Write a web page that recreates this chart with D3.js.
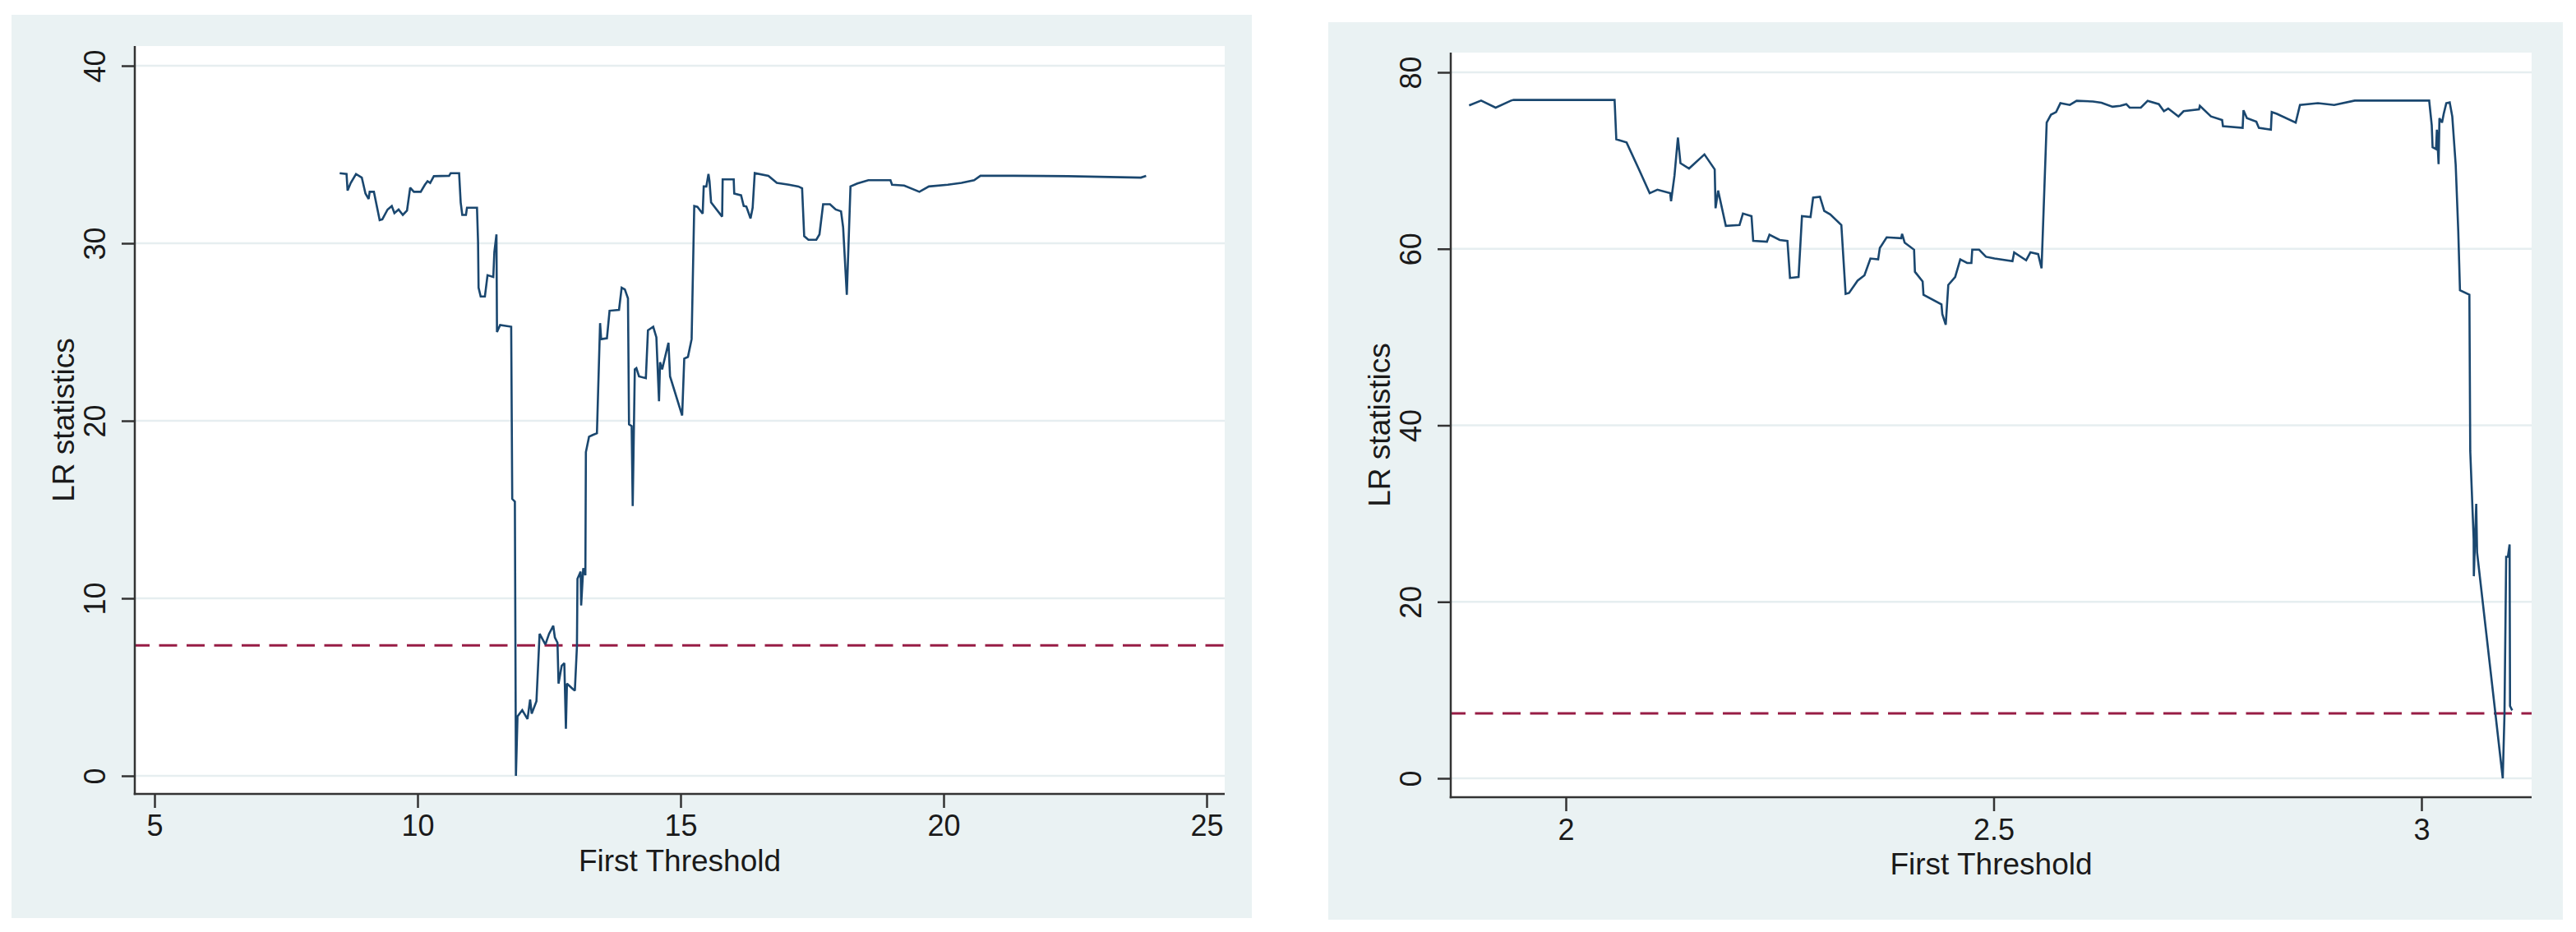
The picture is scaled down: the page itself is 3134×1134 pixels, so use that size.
<!DOCTYPE html>
<html>
<head>
<meta charset="utf-8">
<script src="https://cdn.jsdelivr.net/npm/d3@7"></script>
<style>
  html, body { margin: 0; padding: 0; background: #ffffff; }
  svg { display: block; }
  text { font-family: "Liberation Sans", Arial, Helvetica, sans-serif; fill: #1a1a1a; }
</style>
</head>
<body>
<svg id="chart" width="3134" height="1134"></svg>
<script>
// ---------- DATA ----------
const leftX = [8.52,8.65,8.67,8.73,8.83,8.94,9.01,9.07,9.09,9.17,9.28,9.33,9.43,9.51,9.56,9.64,9.72,9.80,9.86,9.93,
  10.06,10.14,10.19,10.24,10.31,10.60,10.63,10.79,10.82,10.85,10.92,10.94,11.13,11.15,11.16,11.20,11.28,11.33,11.44,11.46,
  11.50,11.51,11.57,11.78,11.80,11.85,11.87,11.90,11.99,12.09,12.14,12.17,12.26,12.32,12.43,12.50,12.58,12.61,12.66,12.68,
  12.74,12.79,12.82,12.84,12.95,12.99,13.03,13.04,13.10,13.11,13.15,13.19,13.20,13.26,13.33,13.41,13.47,13.49,13.60,13.65,
  13.83,13.88,13.94,14.00,14.02,14.07,14.09,14.13,14.16,14.21,14.34,14.38,14.48,14.54,14.59,14.61,14.65,14.73,14.77,14.80,
  15.03,15.07,15.14,15.21,15.26,15.32,15.42,15.44,15.49,15.53,15.55,15.58,15.79,15.80,16.01,16.02,16.15,16.20,16.25,16.33,
  16.37,16.41,16.67,16.83,17.06,17.24,17.31,17.35,17.43,17.58,17.64,17.71,17.84,17.95,18.05,18.09,18.16,18.23,18.36,18.57,
  18.99,19.02,19.25,19.54,19.72,20.08,20.34,20.58,20.70,21.33,22.37,23.75,23.85];
const leftY = [33.95,33.9,32.97,33.4,33.9,33.7,32.8,32.5,32.9,32.9,31.3,31.35,31.9,32.1,31.7,31.9,31.6,31.85,33.13,32.9,
  32.9,33.3,33.5,33.4,33.78,33.8,33.95,33.95,32.3,31.6,31.6,32.0,32.0,30.1,27.5,27.0,27.0,28.2,28.1,29.5,
  30.5,25.0,25.4,25.3,15.6,15.45,0.0,3.35,3.7,3.2,4.3,3.5,4.2,8.0,7.4,8.0,8.45,7.8,7.5,5.2,
  6.2,6.35,2.65,5.2,4.9,4.8,7.3,11.1,11.5,9.6,11.7,11.3,18.24,19.1,19.2,19.3,25.5,24.6,24.65,26.2,
  26.25,27.5,27.4,26.9,19.8,19.7,15.2,22.9,22.97,22.5,22.4,25.1,25.3,24.7,21.1,23.3,22.9,23.9,24.4,22.5,
  20.3,23.5,23.6,24.6,32.1,32.05,31.67,33.2,33.2,33.9,33.5,32.3,31.5,33.6,33.6,32.8,32.7,32.1,32.07,31.4,
  32.0,33.95,33.8,33.4,33.3,33.2,33.1,30.4,30.2,30.2,30.5,32.2,32.2,31.9,31.8,30.9,27.1,33.2,33.37,33.55,
  33.55,33.3,33.25,32.9,33.2,33.3,33.4,33.55,33.8,33.8,33.78,33.7,33.8];

const rightX = [1.887,1.901,1.918,1.936,1.939,2.057,2.059,2.071,2.085,2.098,2.107,2.122,2.123,2.127,2.131,2.134,2.144,2.162,2.174,2.175,
  2.178,2.187,2.203,2.207,2.217,2.219,2.235,2.238,2.250,2.259,2.262,2.272,2.276,2.286,2.289,2.297,2.302,2.309,2.322,2.327,
  2.331,2.341,2.349,2.356,2.365,2.367,2.375,2.392,2.393,2.396,2.407,2.408,2.417,2.418,2.439,2.440,2.444,2.447,2.455,2.461,
  2.469,2.474,2.475,2.483,2.491,2.501,2.522,2.524,2.538,2.543,2.552,2.556,2.562,2.567,2.573,2.578,2.589,2.597,2.616,2.626,
  2.639,2.648,2.655,2.659,2.672,2.680,2.693,2.699,2.704,2.716,2.722,2.740,2.741,2.754,2.767,2.768,2.791,2.792,2.796,2.807,
  2.810,2.824,2.825,2.831,2.853,2.858,2.879,2.898,2.922,3.009,3.012,3.013,3.017,3.018,3.020,3.021,3.024,3.026,3.029,3.033,
  3.036,3.040,3.043,3.045,3.056,3.057,3.061,3.0612,3.064,3.065,3.095,3.097,3.099,3.101,3.103,3.1035,3.106];
const rightY = [76.25,76.8,76.0,76.8,76.87,76.87,72.4,72.05,69.1,66.3,66.7,66.3,65.4,68.3,72.6,69.7,69.1,70.7,69.0,64.6,
  66.6,62.6,62.7,64.0,63.7,60.9,60.8,61.6,61.0,60.9,56.7,56.8,63.7,63.6,65.8,65.9,64.3,63.9,62.7,54.9,
  55.0,56.4,57.0,58.9,58.8,60.1,61.3,61.2,61.7,60.7,59.9,57.4,56.3,54.8,53.7,52.6,51.4,55.9,56.8,58.8,
  58.4,58.4,59.9,59.9,59.1,58.9,58.6,59.6,58.7,59.6,59.4,57.8,74.3,75.2,75.5,76.5,76.3,76.77,76.7,76.55,
  76.1,76.2,76.4,76.0,76.0,76.77,76.4,75.6,75.9,75.0,75.6,75.8,76.2,75.0,74.6,73.9,73.7,75.7,74.8,74.4,
  73.7,73.5,75.5,75.3,74.3,76.3,76.5,76.3,76.8,76.8,74.0,71.5,71.3,73.5,69.6,74.8,74.3,75.3,76.5,76.6,
  75.0,69.5,62.0,55.3,54.8,37.1,27.1,22.9,31.1,25.6,0.0,7.2,25.1,25.1,26.5,8.2,7.7];

const leftXTicks = [5, 10, 15, 20, 25];
const leftYTicks = [0, 10, 20, 30, 40];
const rightXTicks = [2, 2.5, 3];
const rightYTicks = [0, 20, 40, 60, 80];
const criticalValues = [7.35, 7.35];
const xTitles = ["First Threshold", "First Threshold"];
const yTitles = ["LR statistics", "LR statistics"];

// ---------- LAYOUT ----------
const panels = [
  { bg: {x: 14, y: 18, w: 1509, h: 1099}, plot: {x0: 164, x1: 1490, y0: 56, y1: 966},
    xDom: [5, 25], xRng: [188, 1468], yDom: [0, 40], yRng: [944, 80],
    xs: leftX, ys: leftY, xt: leftXTicks, yt: leftYTicks, cv: criticalValues[0],
    xTitle: xTitles[0], yTitle: yTitles[0], yTitleX: 90, xLabY: 51, xTitleY: 1060 },
  { bg: {x: 1616, y: 27, w: 1502, h: 1092}, plot: {x0: 1765, x1: 3080, y0: 64, y1: 970},
    xDom: [2, 3], xRng: [1905, 2946], yDom: [0, 80], yRng: [947, 88],
    xs: rightX, ys: rightY, xt: rightXTicks, yt: rightYTicks, cv: criticalValues[1],
    xTitle: xTitles[1], yTitle: yTitles[1], yTitleX: 1691, xLabY: 52, xTitleY: 1064 }
];

const svg = d3.select("#chart");
const BG = "#eaf2f3", NAVY = "#1a476f", AXIS = "#333333", DASH = "#971c45";

panels.forEach(p => {
  const g = svg.append("g");
  const x = d3.scaleLinear().domain(p.xDom).range(p.xRng);
  const y = d3.scaleLinear().domain(p.yDom).range(p.yRng);
  const pl = p.plot;

  g.append("rect").attr("x", p.bg.x).attr("y", p.bg.y).attr("width", p.bg.w).attr("height", p.bg.h).attr("fill", BG);
  g.append("rect").attr("x", pl.x0).attr("y", pl.y0).attr("width", pl.x1 - pl.x0).attr("height", pl.y1 - pl.y0).attr("fill", "#ffffff");

  // gridlines
  g.append("g").selectAll("line").data(p.yt).join("line")
    .attr("x1", pl.x0).attr("x2", pl.x1)
    .attr("y1", d => y(d)).attr("y2", d => y(d))
    .attr("stroke", "#e6eef0").attr("stroke-width", 2.5);

  // critical value dashed line
  g.append("line")
    .attr("x1", pl.x0).attr("x2", pl.x1)
    .attr("y1", y(p.cv)).attr("y2", y(p.cv))
    .attr("stroke", DASH).attr("stroke-width", 3)
    .attr("stroke-dasharray", "22,11.5")
    .attr("stroke-dashoffset", 4);

  // data line
  const pts = p.xs.map((v, i) => [v, p.ys[i]]);
  g.append("path").datum(pts)
    .attr("d", d3.line().x(d => x(d[0])).y(d => y(d[1])))
    .attr("fill", "none").attr("stroke", NAVY).attr("stroke-width", 2.6)
    .attr("stroke-linejoin", "miter").attr("stroke-miterlimit", 2);

  // axes
  const yAxis = g.append("g").attr("transform", `translate(${pl.x0},0)`)
    .call(d3.axisLeft(y).tickValues(p.yt).tickSize(16).tickSizeOuter(0).tickFormat(d3.format("")));
  yAxis.select(".domain").remove();
  yAxis.selectAll(".tick line").attr("stroke", AXIS).attr("stroke-width", 2.5);
  yAxis.selectAll(".tick text")
    .attr("x", null).attr("dy", null)
    .attr("transform", "translate(-36,0) rotate(-90)")
    .attr("text-anchor", "middle")
    .style("font-size", "36px").style("fill", "#1a1a1a")
    .style("font-family", '"Liberation Sans", Arial, sans-serif');

  const xAxis = g.append("g").attr("transform", `translate(0,${pl.y1})`)
    .call(d3.axisBottom(x).tickValues(p.xt).tickSize(17).tickSizeOuter(0).tickFormat(d3.format("")));
  xAxis.select(".domain").remove();
  xAxis.selectAll(".tick line").attr("stroke", AXIS).attr("stroke-width", 2.5);
  xAxis.selectAll(".tick text")
    .attr("y", p.xLabY).attr("dy", null)
    .attr("text-anchor", "middle")
    .style("font-size", "36px").style("fill", "#1a1a1a")
    .style("font-family", '"Liberation Sans", Arial, sans-serif');

  // axis lines spanning plot region
  g.append("line").attr("x1", pl.x0).attr("x2", pl.x0).attr("y1", pl.y0).attr("y2", pl.y1 + 1.25)
    .attr("stroke", AXIS).attr("stroke-width", 2.5);
  g.append("line").attr("x1", pl.x0 - 1.25).attr("x2", pl.x1).attr("y1", pl.y1).attr("y2", pl.y1)
    .attr("stroke", AXIS).attr("stroke-width", 2.5);

  // titles
  g.append("text").attr("x", (pl.x0 + pl.x1) / 2).attr("y", p.xTitleY)
    .attr("text-anchor", "middle").style("font-size", "37px").text(p.xTitle);
  g.append("text").attr("transform", `translate(${p.yTitleX},${(pl.y0 + pl.y1) / 2}) rotate(-90)`)
    .attr("text-anchor", "middle").style("font-size", "37px").text(p.yTitle);
});
</script>
</body>
</html>
